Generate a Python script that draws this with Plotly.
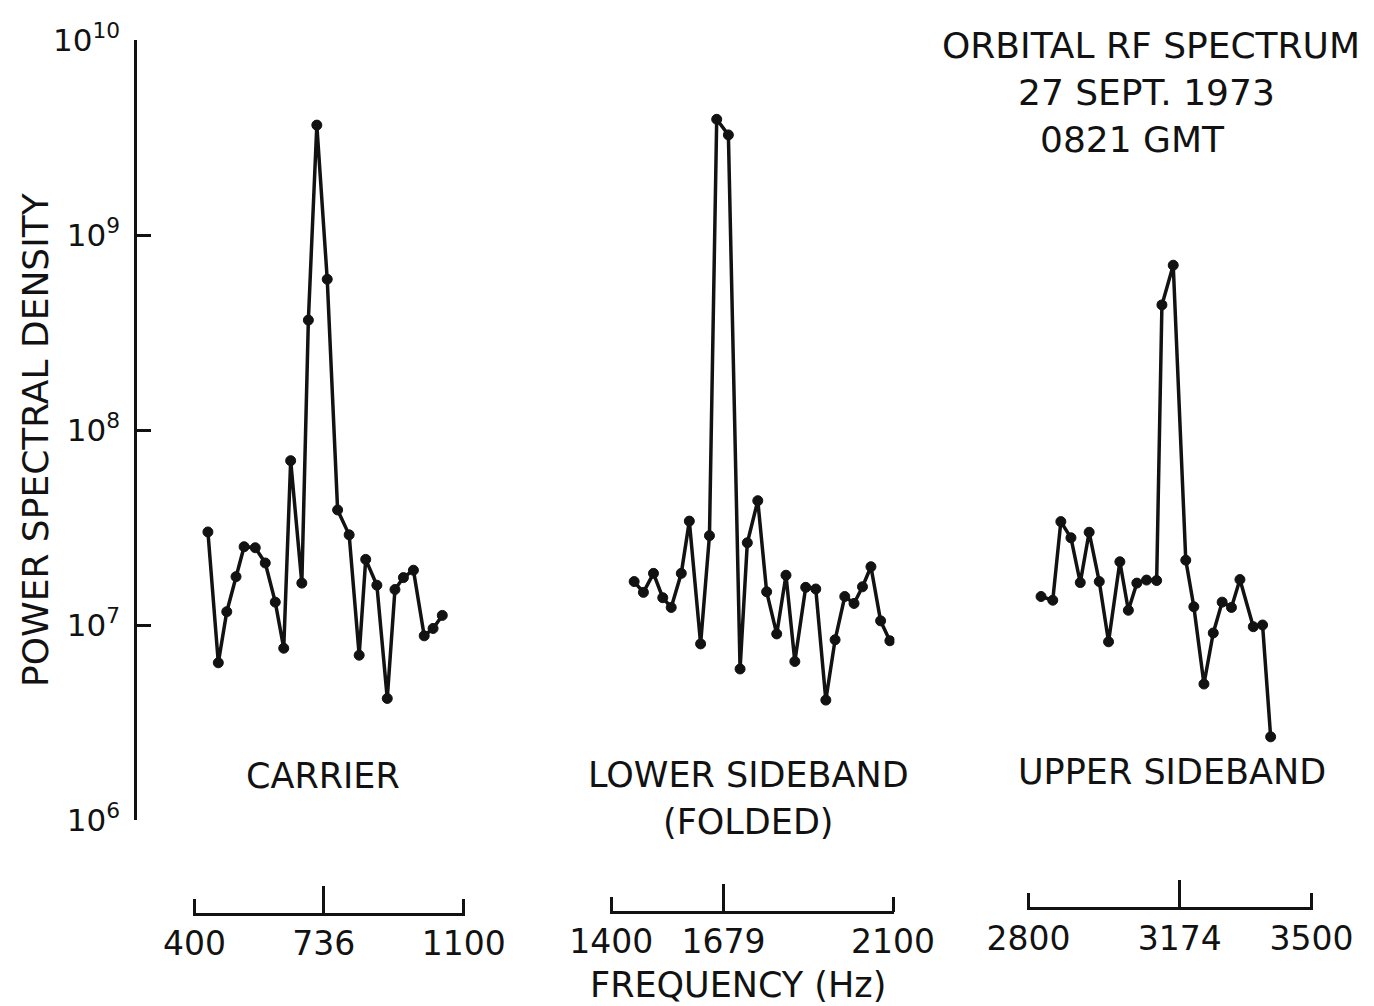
import plotly.graph_objects as go

# ---------------- data ----------------
carrier_freq = [435, 462, 484, 508, 529, 558, 584, 610, 632, 650, 679, 696, 718, 745,
                772, 802, 828, 845, 874, 901, 921, 943, 969, 997, 1020, 1044]
carrier_psd = [3.0e7, 6.4e6, 1.17e7, 1.77e7, 2.52e7, 2.49e7, 2.08e7, 1.31e7, 7.6e6, 6.96e7,
               1.64e7, 3.66e8, 3.66e9, 5.93e8, 3.89e7, 2.9e7, 7.0e6, 2.17e7, 1.6e7, 4.2e6,
               1.52e7, 1.75e7, 1.91e7, 8.8e6, 9.6e6, 1.12e7]

lsb_freq = [1457, 1480, 1505, 1528, 1549, 1574, 1594, 1622, 1644, 1662, 1691, 1720, 1738, 1764,
            1786, 1811, 1834, 1856, 1883, 1908, 1933, 1956, 1980, 2003, 2024, 2045, 2069, 2092]
lsb_psd = [1.67e7, 1.47e7, 1.84e7, 1.38e7, 1.23e7, 1.84e7, 3.41e7, 8.0e6, 2.87e7, 3.92e9,
           3.26e9, 5.95e6, 2.64e7, 4.34e7, 1.48e7, 9.0e6, 1.8e7, 6.5e6, 1.56e7, 1.53e7,
           4.12e6, 8.4e6, 1.40e7, 1.29e7, 1.57e7, 1.99e7, 1.05e7, 8.3e6]

usb_freq = [2831, 2860, 2880, 2905, 2928, 2950, 2975, 2998, 3026, 3047, 3068, 3092, 3117, 3130,
            3158, 3189, 3209, 3234, 3257, 3279, 3302, 3323, 3356, 3379, 3399]
usb_psd = [1.40e7, 1.34e7, 3.39e7, 2.8e7, 1.65e7, 2.99e7, 1.67e7, 8.2e6, 2.11e7, 1.19e7,
           1.64e7, 1.70e7, 1.69e7, 4.38e8, 7.0e8, 2.15e7, 1.24e7, 4.98e6, 9.1e6, 1.31e7,
           1.23e7, 1.71e7, 9.8e6, 1.0e7, 2.67e6]

carrier_ticks = [400, 736, 1100]
lsb_ticks = [1400, 1679, 2100]
usb_ticks = [2800, 3174, 3500]
y_ticks = [1e6, 1e7, 1e8, 1e9, 1e10]
y_ticktext = ["10<sup>6</sup>", "10<sup>7</sup>", "10<sup>8</sup>", "10<sup>9</sup>", "10<sup>10</sup>"]

FONT = "DejaVu Sans"
INK = "#121212"

fig = go.Figure()
line_style = dict(color=INK, width=3.5)
marker_style = dict(size=10, color=INK, line=dict(color=INK, width=1))

for xs, ys, xa in [(carrier_freq, carrier_psd, "x"),
                   (lsb_freq, lsb_psd, "x2"),
                   (usb_freq, usb_psd, "x3")]:
    fig.add_trace(go.Scatter(x=xs, y=ys, xaxis=xa, yaxis="y", mode="lines+markers",
                             line=line_style, marker=marker_style, showlegend=False,
                             hoverinfo="x+y"))

# helper traces so the bracket-tick overlay axes are drawn
for xa, t in [("x4", carrier_ticks), ("x5", lsb_ticks), ("x6", usb_ticks)]:
    fig.add_trace(go.Scatter(x=[t[1]], y=[None], xaxis=xa, yaxis="y", mode="markers",
                             showlegend=False, hoverinfo="skip"))

L, R, T, B = 135, 10, 40, 92
W = 1374 - L - R
H = 1006 - T - B


def px_x(p):
    return (p - L) / W


def px_y(p):
    return (1006 - B - p) / H


def padded(t):
    return [t[0] - 3, t[-1] + 3]


def xaxis_def(dom, ticks, pos):
    # axis line + labels; the bracket ticks come from the overlay axis
    return dict(domain=dom, range=padded(ticks), anchor="free", position=pos, automargin=False,
                tickmode="array", tickvals=ticks, ticktext=[str(t) for t in ticks],
                ticks="", ticklabelstandoff=0,
                showline=True, linecolor=INK, linewidth=2.5,
                showgrid=False, zeroline=False,
                tickfont=dict(family=FONT, size=33, color=INK))


def overlay_def(over, dom, ticks, pos):
    return dict(overlaying=over, domain=dom, range=padded(ticks), anchor="free", position=pos,
                automargin=False,
                tickmode="array", tickvals=[ticks[0], ticks[-1]], ticks="inside", ticklen=15,
                tickwidth=2.5, tickcolor=INK, showticklabels=False,
                minor=dict(tickmode="array", tickvals=[ticks[1]], ticks="inside", ticklen=28,
                           tickwidth=2.5, tickcolor=INK, showgrid=False),
                showline=False, showgrid=False, zeroline=False)


dom1 = [px_x(193.3), px_x(465.0)]
dom2 = [px_x(610.0), px_x(894.3)]
dom3 = [px_x(1027.3), px_x(1312.7)]
p1, p2, p3 = 0.0, 0.0026, 0.0065

fig.update_layout(
    width=1374, height=1006,
    margin=dict(l=L, r=R, t=T, b=B, autoexpand=False),
    paper_bgcolor="white", plot_bgcolor="white",
    font=dict(family=FONT, color=INK),
    xaxis=xaxis_def(dom1, carrier_ticks, p1),
    xaxis2=xaxis_def(dom2, lsb_ticks, p2),
    xaxis3=xaxis_def(dom3, usb_ticks, p3),
    xaxis4=overlay_def("x", dom1, carrier_ticks, p1),
    xaxis5=overlay_def("x2", dom2, lsb_ticks, p2),
    xaxis6=overlay_def("x3", dom3, usb_ticks, p3),
    yaxis=dict(type="log", range=[6, 10], domain=[px_y(820), 1], anchor="free", position=0,
               automargin=False,
               tickmode="array", tickvals=y_ticks, ticktext=y_ticktext,
               ticks="inside", ticklen=14, tickwidth=2.5, tickcolor=INK,
               ticklabelstandoff=8,
               showline=True, linecolor=INK, linewidth=2.5,
               showgrid=False, zeroline=False,
               tickfont=dict(family=FONT, size=31, color=INK)),
    showlegend=False,
)

texts = [
    ("CARRIER", 323, 776, 0, 35),
    ("LOWER SIDEBAND", 748, 775, 0, 35),
    ("(FOLDED)", 748, 822, 0, 35),
    ("UPPER SIDEBAND", 1172, 772, 0, 35),
    ("ORBITAL RF SPECTRUM", 1151, 45, 0, 36),
    ("27 SEPT. 1973", 1146, 92, 0, 36),
    ("0821 GMT", 1132, 140, 0, 36),
    ("FREQUENCY (Hz)", 738, 985, 0, 35),
    ("POWER SPECTRAL DENSITY", 35, 440, -90, 36),
]
for txt, x, y, ang, sz in texts:
    fig.add_annotation(text=txt, x=px_x(x), y=px_y(y), xref="paper", yref="paper",
                       xanchor="center", yanchor="middle", showarrow=False,
                       textangle=ang, font=dict(family=FONT, size=sz, color=INK))

fig.write_html("out.html")
